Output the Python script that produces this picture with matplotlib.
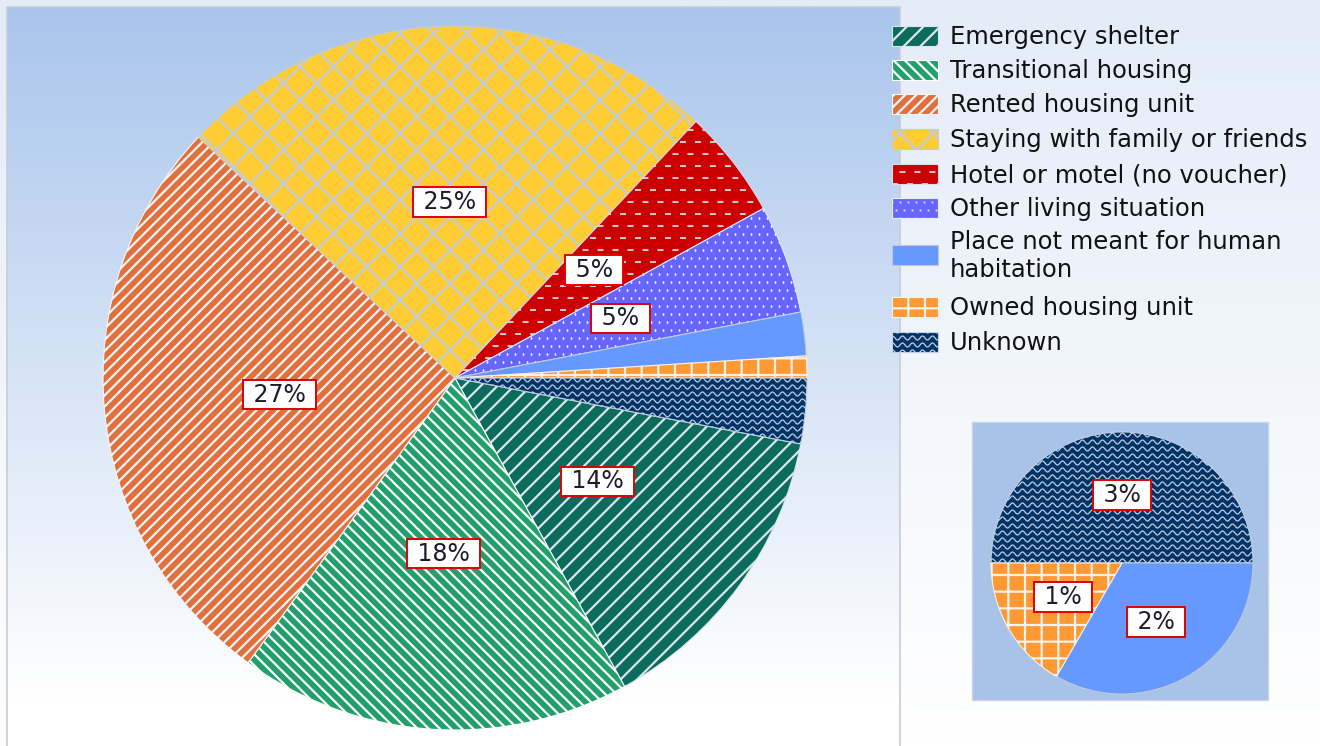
import numpy as np
import matplotlib
matplotlib.use('Agg')
import matplotlib.pyplot as plt
from matplotlib.patches import Rectangle
from matplotlib.colors import to_rgb
from matplotlib.transforms import IdentityTransform

plt.rcParams['font.family'] = ['DejaVu Sans']
plt.rcParams['hatch.linewidth'] = 1.6

# data
labels = ['Emergency shelter', 'Transitional housing', 'Rented housing unit',
          'Staying with family or friends', 'Hotel or motel (no voucher)',
          'Other living situation', 'Place not meant for human\nhabitation',
          'Owned housing unit', 'Unknown']
shares = [14, 18, 27, 25, 5, 5, 2, 1, 3]
small_idx = [8, 6, 7]          # Unknown, Place not meant..., Owned (pulled out)
small_shares = [shares[i] for i in small_idx]

# looks
face = ['#0b6b5d', '#22a06c', '#e2703c', '#ffcc33', '#cc0000',
        '#6666ff', '#6699ff', '#ff9933', '#003366']
hatch = ['//', '\\\\\\', '///', 'x', None, None, None, '+', None]
hcol = ['#dce6ea', '#ffffff', '#f6f6fa', '#c0ccdc', '#dcdce8',
        '#e8e8ff', '#c0c8d8', '#f6f2ee', '#c4d0e4']
extra = [None, None, None, None, 'dash', 'dots', None, None, 'wave']


def texture(ax, patch, kind, color, box):
    # draw wave / dash / dot fills clipped to a patch, box in display pixels
    x0, y0, x1, y1 = box
    z = patch.get_zorder() + 0.1
    lines = []
    if kind == 'wave':
        xs = np.arange(x0, x1 + 1, 0.5)
        for y in np.arange(y0, y1 + 7, 7):
            lines += ax.plot(xs, y + 2.0 * np.sin(2 * np.pi * xs / 10), color=color,
                             lw=0.9, transform=IdentityTransform(), zorder=z)
    elif kind == 'dash':
        for k, y in enumerate(np.arange(y0, y1 + 15, 12)):
            lines += ax.plot([x0, x1], [y, y], color=color, lw=1.3,
                             ls=(4.15 * (k % 2), (3.3, 5.0)),
                             transform=IdentityTransform(), zorder=z)
    elif kind == 'dots':
        for k, y in enumerate(np.arange(y0, y1 + 8, 8)):
            xs = np.arange(x0 + 4 * (k % 2), x1 + 8, 8)
            lines += ax.plot(xs, np.full_like(xs, y), ls='none', marker='s', ms=1.3,
                             mew=0, color=color, transform=IdentityTransform(), zorder=z)
    for ln in lines:
        ln.set_clip_path(patch)


def style(ax, patch, i, box):
    patch.set_facecolor(face[i])
    patch.set_edgecolor(hcol[i])
    patch.set_linewidth(0.8)
    if hatch[i]:
        patch.set_hatch(hatch[i])
    if extra[i]:
        texture(ax, patch, extra[i], hcol[i], box)


fig = plt.figure(figsize=(13.2, 7.46), dpi=100)

# background (pixel coords, y down)
bg = fig.add_axes([0, 0, 1, 1], zorder=0)
bg.set_xlim(0, 1320)
bg.set_ylim(746, 0)
bg.axis('off')


def grad(c_top, c_bot, n=256):
    a = np.linspace(0, 1, n)[:, None]
    t, b = np.array(to_rgb(c_top)), np.array(to_rgb(c_bot))
    return (t + (b - t) * a)[:, None, :]


bg.imshow(grad('#e4ecf8', '#ffffff'), extent=[0, 1320, 746, 0], aspect='auto', zorder=0)
bg.imshow(grad('#a9c5ec', '#ffffff'), extent=[7, 900, 700, 7], aspect='auto', zorder=1)
bg.add_patch(Rectangle((7, 700), 893, 46, fc='white', ec='none', zorder=1))
bg.plot([7, 7, 900, 900], [746, 7, 7, 746], color='#c9ccd2', lw=1.2, zorder=2)
bg.add_patch(Rectangle((972, 422), 296, 278, fc='#a9c2e8', ec='#c8d4e8', lw=1, zorder=2))

# legend
rows = [36, 70, 104, 139, 174, 208, 255, 307, 342]
for i, (lab, yc) in enumerate(zip(labels, rows)):
    r = Rectangle((892, yc - 10), 46, 20, zorder=3)
    bg.add_patch(r)
    (px0, py0), (px1, py1) = bg.transData.transform([(892, yc + 10), (938, yc - 10)])
    style(bg, r, i, (px0, py0, px1, py1))
    bg.text(950, yc + 1, lab, fontsize=17.5, color='#111111', va='center', ha='left',
            linespacing=1.2, zorder=4)

box_kw = dict(boxstyle='square,pad=0.12', fc='white', ec='#e00000', lw=1.4)

# main pie
ax = fig.add_axes([103 / 1320, 16 / 746, 704 / 1320, 704 / 746], zorder=2)
wedges, _, autos = ax.pie(shares, startangle=-shares[-1] * 3.6, counterclock=False,
                          autopct=lambda p: ' %.0f%% ' % p, pctdistance=0.5,
                          textprops=dict(fontsize=17, color='#1c1c2c'))
ax.set_xlim(-1, 1)
ax.set_ylim(-1, 1)
ax.set_aspect('equal')
box = (ax.bbox.x0, ax.bbox.y0, ax.bbox.x1, ax.bbox.y1)
for i, w in enumerate(wedges):
    style(ax, w, i, box)
for i, t in enumerate(autos):
    t.set_zorder(5)
    if i in small_idx:
        t.set_visible(False)
    else:
        t.set_bbox(box_kw)

# secondary pie for the small slices
ax2 = fig.add_axes([991 / 1320, 52 / 746, 262 / 1320, 262 / 746], zorder=3)
w2, _, a2 = ax2.pie(small_shares, startangle=180, counterclock=False,
                    autopct=lambda p: ' %.0f%% ' % round(p * sum(small_shares) / 100),
                    pctdistance=0.52, textprops=dict(fontsize=17, color='#1c1c2c'))
ax2.set_xlim(-1, 1)
ax2.set_ylim(-1, 1)
ax2.set_aspect('equal')
box2 = (ax2.bbox.x0, ax2.bbox.y0, ax2.bbox.x1, ax2.bbox.y1)
for i, w in zip(small_idx, w2):
    style(ax2, w, i, box2)
for t in a2:
    t.set_zorder(5)
    t.set_bbox(box_kw)

fig.savefig('out.png', dpi=100)
